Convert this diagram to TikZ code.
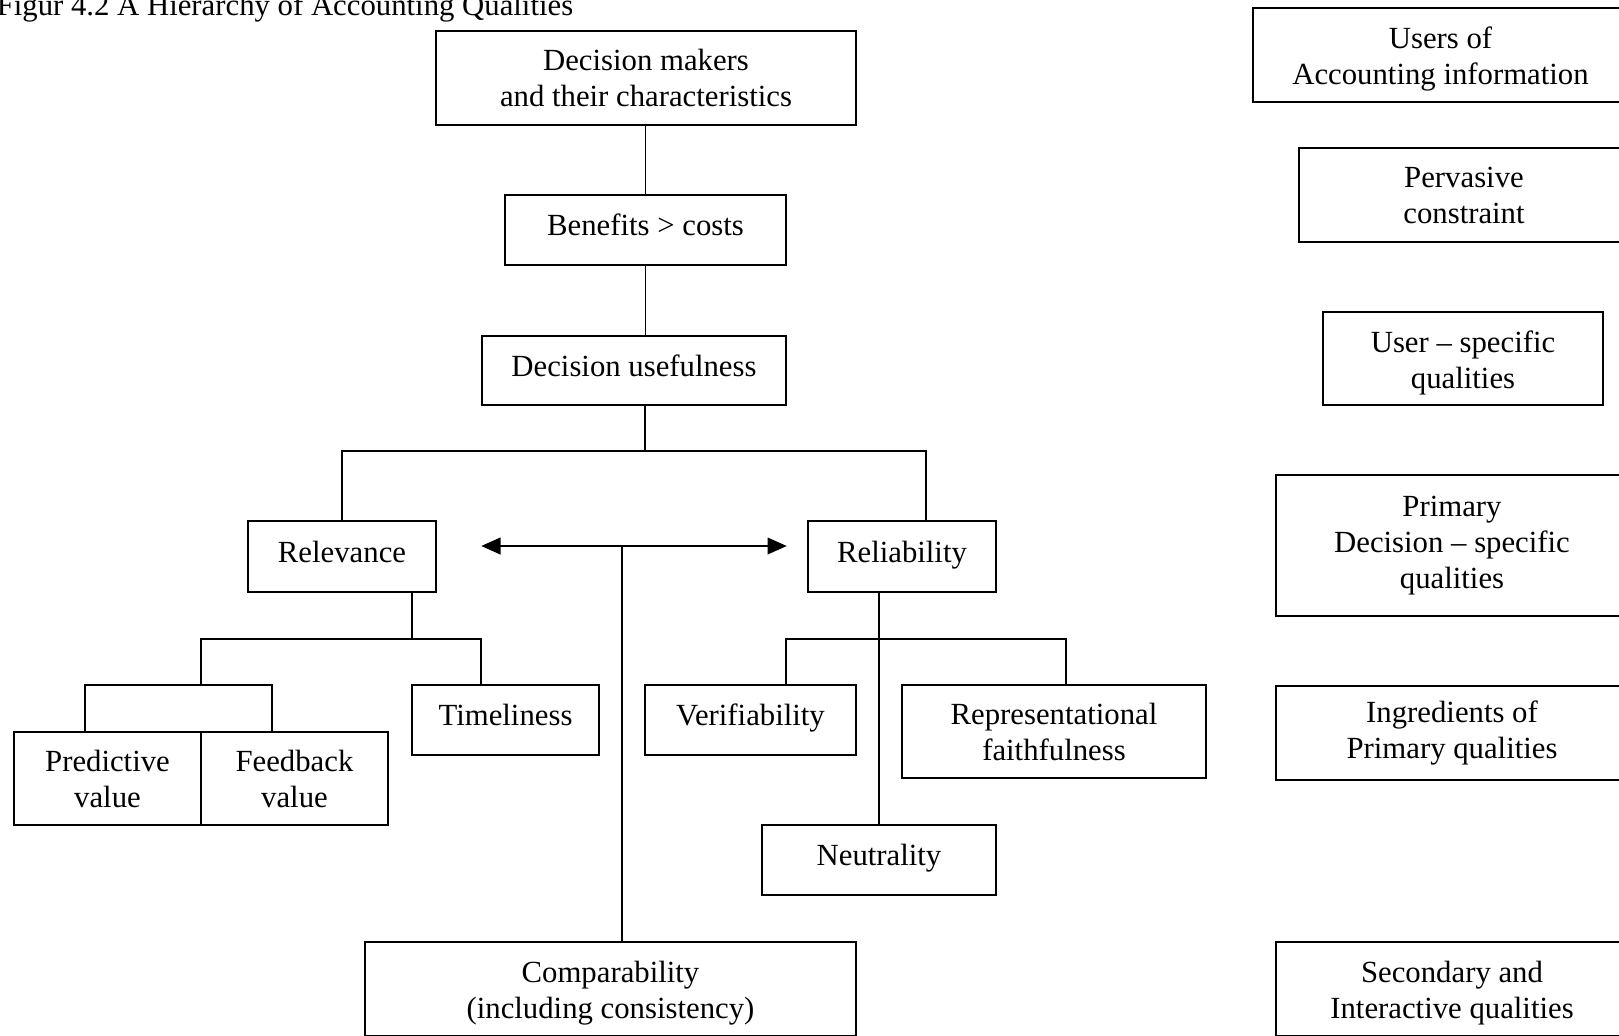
\documentclass[tikz,border=0pt]{standalone}
\usepackage{fontspec}
\setmainfont{Liberation Serif}
\usetikzlibrary{arrows.meta, positioning, calc}

\newcommand\hdstrut{\rule{0pt}{12.2pt}}

\begin{document}
\begin{tikzpicture}[
    x=0.4pt, y=-0.4pt,
    >={Triangle[length=7.7pt, width=6.7pt]},
    line width=0.6pt,
    box/.style={draw, line width=0.6pt, align=center, inner sep=0pt,
                font=\fontsize{12.3}{14.4}\selectfont},
    one/.style={box, text height=8.4pt, text depth=4.0pt}
  ]
  \useasboundingbox (0,0) rectangle (1619,1035);

  % Title
  \node[anchor=base west, inner sep=0pt, font=\fontsize{12.3}{14.4}\selectfont]
    (title) at (-4,15) {Figur 4.2 A Hierarchy of Accounting Qualities};

  % Main hierarchy
  \node[box, minimum width=168pt, minimum height=37.6pt] (dm) at (646,78)
    {Decision makers\\and their characteristics};
  \node[one, minimum width=112.4pt, minimum height=28pt] (bc) at (645.5,230)
    {Benefits > costs};
  \node[one, minimum width=121.6pt, minimum height=27.6pt] (du) at (634,370.5)
    {Decision usefulness};
  \node[one, minimum width=75.2pt, minimum height=28.4pt] (rel) at (342,556.5)
    {Relevance};
  \node[one, minimum width=75.2pt, minimum height=28.4pt] (rlb) at (902,556.5)
    {Reliability};
  \node[box, minimum width=196.4pt, minimum height=37.6pt] (cmp) at (610.5,989)
    {\hdstrut Comparability\\(including consistency)};

  % Ingredients
  \node[one, minimum width=74.8pt, minimum height=28pt] (tml) at (505.5,720)
    {Timeliness};
  \node[box, minimum width=74.8pt, minimum height=37.2pt] (prd) at (107.5,778.5)
    {Predictive\\value};
  \node[box, minimum width=74.8pt, minimum height=37.2pt] (fbk) at (294.5,778.5)
    {Feedback\\value};
  \node[one, minimum width=84.4pt, minimum height=28pt] (ver) at (750.5,720)
    {Verifiability};
  \node[box, minimum width=121.6pt, minimum height=37.2pt] (rep) at (1054,731.5)
    {Representational\\faithfulness};
  \node[one, minimum width=93.6pt, minimum height=28pt] (neu) at (879,860)
    {Neutrality};

  % Legend column
  \foreach \n/\x/\y/\w/\h/\t in {
    usr/1440.5/55/150/37.6/{\hdstrut Users of\\Accounting information},
    pvc/1464/195/132/37.6/{Pervasive\\constraint},
    usq/1463/358.5/112/37.2/{\hdstrut User -- specific\\qualities},
    pri/1452/545.5/140.8/56.4/{Primary\\Decision -- specific\\qualities},
    ing/1452/733/140.8/37.6/{Ingredients of\\Primary qualities},
    sec/1452/989/140.8/37.6/{\hdstrut Secondary and\\Interactive qualities}} {
    \node[box, minimum width=\w pt, minimum height=\h pt] (\n) at (\x,\y) {\t};
  }

  % Junctions
  \coordinate (jtop) at (645,451);
  \coordinate (jrl) at (926,451);
  \coordinate (jrv) at (412,639);
  \coordinate (jpf) at (201,685);
  \coordinate (jrb) at (879,639);
  \coordinate (am) at (622,546);

  % Connectors
  \draw (dm.south -| bc.south) -- (bc.north);
  \draw (bc.south) -- (bc.south |- du.north);
  \draw (du.south -| jtop) -- (jtop);
  \draw (rel.north) |- (jrl) -- (jrl |- rlb.north);

  \draw[<->] (du.west |- am) -- (du.east |- am);
  \draw (am) -- (am |- cmp.north);

  \draw (rel.south -| jrv) -- (jrv);
  \draw (jpf) |- (jrv) -| (481,0 |- tml.north);
  \draw (jpf) -- ++(-116,0) -- (85,0 |- prd.north);
  \draw (jpf) -- ++(71,0) -- (272,0 |- fbk.north);

  \draw (rlb.south -| neu.north) -- (neu.north);
  \draw (786,0 |- ver.north) |- (jrb) -| (1066,0 |- rep.north);
\end{tikzpicture}
\end{document}
